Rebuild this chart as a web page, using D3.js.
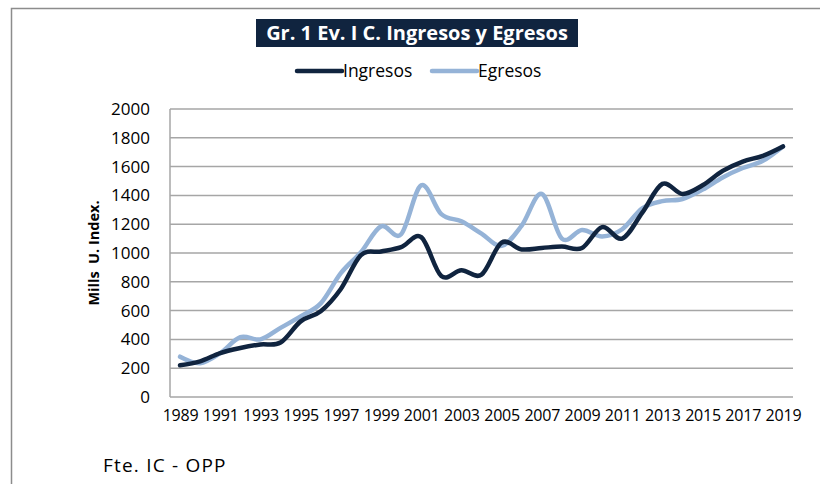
<!DOCTYPE html>
<html>
<head>
<meta charset="utf-8">
<script src="https://cdn.jsdelivr.net/npm/d3@7"></script>
<style>
  body { margin: 0; background: #fff; }
  svg { font-family: "Open Sans", Lato, sans-serif; }
</style>
</head>
<body>
<svg id="chart" width="820" height="484"></svg>
<script>
// Datos (millones U. Indexadas)
const years = d3.range(1989, 2020).map(String);
const ingresos = [220, 248, 305, 340, 365, 378, 525, 595, 750, 985, 1010, 1040, 1110,
  840, 880, 850, 1072, 1025, 1035, 1045, 1035, 1180, 1100, 1280, 1480, 1410, 1470,
  1570, 1635, 1675, 1740];
const egresos = [280, 235, 305, 415, 400, 480, 560, 650, 860, 1005, 1185, 1130, 1470,
  1270, 1220, 1135, 1050, 1190, 1410, 1100, 1160, 1115, 1165, 1310, 1360, 1375, 1440,
  1525, 1590, 1640, 1740];
const yTicks = [0, 200, 400, 600, 800, 1000, 1200, 1400, 1600, 1800, 2000];
const xLabels = years.filter((d, i) => i % 2 === 0);

const dark = "#10243f";
const light = "#95b3d7";
const gridColor = "#a6a6a6";

const svg = d3.select("#chart");

// marco exterior (solo se ve arriba y a la izquierda)
svg.append("path")
  .attr("d", "M11.5,484 V8.5 H820")
  .attr("fill", "none")
  .attr("stroke", "#8c8c8c")
  .attr("stroke-width", 1.5);

const margin = { left: 170, right: 793, top: 109, bottom: 397 };

const x = d3.scalePoint()
  .domain(years)
  .range([margin.left, margin.right])
  .padding(0.5);

const y = d3.scaleLinear()
  .domain([0, 2000])
  .range([margin.bottom, margin.top]);

// grilla
svg.append("g")
  .selectAll("line")
  .data(yTicks)
  .enter().append("line")
  .attr("x1", margin.left)
  .attr("x2", margin.right)
  .attr("y1", d => y(d))
  .attr("y2", d => y(d))
  .attr("stroke", gridColor)
  .attr("stroke-width", 1.5);

svg.append("line")
  .attr("x1", margin.left).attr("x2", margin.left)
  .attr("y1", y(2000)).attr("y2", y(0))
  .attr("stroke", gridColor)
  .attr("stroke-width", 1.5);

// eje y
const yAxis = d3.axisLeft(y).tickValues(yTicks).tickFormat(d3.format("d")).tickSize(0).tickPadding(20);
const gy = svg.append("g")
  .attr("transform", `translate(${margin.left},0)`)
  .call(yAxis);
gy.select(".domain").remove();
gy.selectAll("text")
  .attr("font-size", 17)
  .attr("font-family", "'Open Sans', sans-serif")
  .attr("fill", "#000");

// eje x
const xAxis = d3.axisBottom(x).tickValues(xLabels).tickSize(0).tickPadding(13);
const gx = svg.append("g")
  .attr("transform", `translate(0,${margin.bottom})`)
  .call(xAxis);
gx.select(".domain").remove();
gx.selectAll("text")
  .attr("font-size", 16)
  .attr("font-family", "'Open Sans', sans-serif")
  .attr("letter-spacing", -0.2)
  .attr("fill", "#000");

// titulo eje y
svg.append("text")
  .attr("transform", `translate(99,${(y(0) + y(2000)) / 2}) rotate(-90)`)
  .attr("text-anchor", "middle")
  .attr("font-size", 14.5)
  .attr("font-weight", "bold")
  .style("white-space", "pre")
  .text("Mills  U. Index.");

// lineas suavizadas
const line = d3.line()
  .x((d, i) => x(years[i]))
  .y(d => y(d))
  .curve(d3.curveCardinal.tension(0));

svg.append("path")
  .datum(egresos)
  .attr("d", line)
  .attr("fill", "none")
  .attr("stroke", light)
  .attr("stroke-width", 4.5)
  .attr("stroke-linecap", "round");

svg.append("path")
  .datum(ingresos)
  .attr("d", line)
  .attr("fill", "none")
  .attr("stroke", dark)
  .attr("stroke-width", 4.5)
  .attr("stroke-linecap", "round");

// titulo
svg.append("rect")
  .attr("x", 256).attr("y", 19)
  .attr("width", 322).attr("height", 28)
  .attr("fill", dark);
svg.append("text")
  .attr("x", 417).attr("y", 40)
  .attr("text-anchor", "middle")
  .attr("fill", "#fff")
  .attr("font-size", 20)
  .attr("font-weight", "bold")
  .text("Gr. 1 Ev. I C. Ingresos y Egresos");

// leyenda
const legend = [
  { name: "Ingresos", color: dark, x: 297 },
  { name: "Egresos", color: light, x: 432 }
];
const lg = svg.append("g").selectAll("g")
  .data(legend)
  .enter().append("g")
  .attr("transform", d => `translate(${d.x},71)`);
lg.append("line")
  .attr("x1", 0).attr("x2", 45)
  .attr("stroke", d => d.color)
  .attr("stroke-width", 4.5)
  .attr("stroke-linecap", "round");
lg.append("text")
  .attr("x", 46).attr("y", 6)
  .attr("font-size", 17.5)
  .text(d => d.name);

// fuente
svg.append("text")
  .attr("x", 103).attr("y", 472)
  .attr("font-size", 19)
  .attr("letter-spacing", 1.2)
  .text("Fte. IC - OPP");
</script>
</body>
</html>
